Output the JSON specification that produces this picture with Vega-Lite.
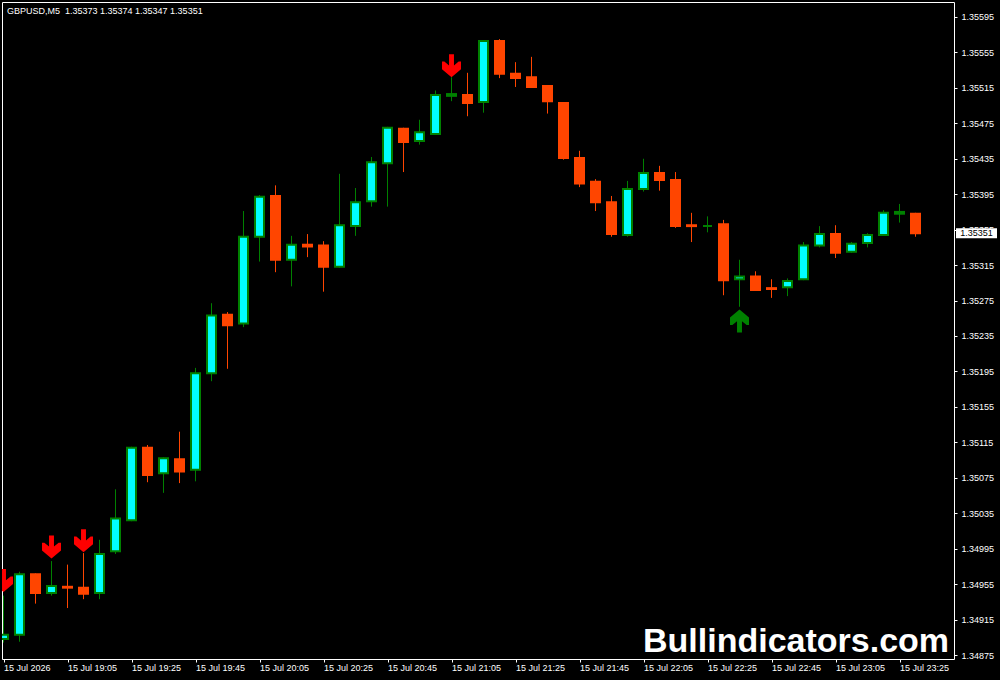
{
  "$schema": "https://vega.github.io/schema/vega-lite/v6.json",
  "width": 952,
  "height": 657,
  "autosize": {"type": "none"},
  "padding": {"left": 2, "top": 2, "right": 46, "bottom": 21},
  "background": "#000000",
  "config": {
    "view": {"stroke": "#FFFFFF", "strokeWidth": 1, "fill": "#000000"},
    "font": "Liberation Sans",
    "scale": {"continuousPadding": 0},
    "axis": {"labelFont": "Liberation Sans", "labelOverlap": false}
  },
  "datasets": {
    "bars": [
      {"time": "2026-07-15T18:45:00Z", "open": 1.34893, "high": 1.34942, "low": 1.34889, "close": 1.34898},
      {"time": "2026-07-15T18:50:00Z", "open": 1.34898, "high": 1.34969, "low": 1.34890, "close": 1.34966},
      {"time": "2026-07-15T18:55:00Z", "open": 1.34966, "high": 1.34967, "low": 1.34933, "close": 1.34945},
      {"time": "2026-07-15T19:00:00Z", "open": 1.34945, "high": 1.34981, "low": 1.34942, "close": 1.34953},
      {"time": "2026-07-15T19:05:00Z", "open": 1.34952, "high": 1.34977, "low": 1.34928, "close": 1.34951},
      {"time": "2026-07-15T19:10:00Z", "open": 1.34951, "high": 1.34990, "low": 1.34938, "close": 1.34944},
      {"time": "2026-07-15T19:15:00Z", "open": 1.34945, "high": 1.35005, "low": 1.34938, "close": 1.34989},
      {"time": "2026-07-15T19:20:00Z", "open": 1.34992, "high": 1.35062, "low": 1.34989, "close": 1.35029},
      {"time": "2026-07-15T19:25:00Z", "open": 1.35027, "high": 1.35110, "low": 1.35026, "close": 1.35109},
      {"time": "2026-07-15T19:30:00Z", "open": 1.35109, "high": 1.35112, "low": 1.35070, "close": 1.35078},
      {"time": "2026-07-15T19:35:00Z", "open": 1.35080, "high": 1.35098, "low": 1.35058, "close": 1.35097},
      {"time": "2026-07-15T19:40:00Z", "open": 1.35096, "high": 1.35127, "low": 1.35069, "close": 1.35082},
      {"time": "2026-07-15T19:45:00Z", "open": 1.35084, "high": 1.35199, "low": 1.35071, "close": 1.35193},
      {"time": "2026-07-15T19:50:00Z", "open": 1.35193, "high": 1.35272, "low": 1.35184, "close": 1.35258},
      {"time": "2026-07-15T19:55:00Z", "open": 1.35259, "high": 1.35262, "low": 1.35198, "close": 1.35247},
      {"time": "2026-07-15T20:00:00Z", "open": 1.35249, "high": 1.35376, "low": 1.35245, "close": 1.35347},
      {"time": "2026-07-15T20:05:00Z", "open": 1.35347, "high": 1.35394, "low": 1.35319, "close": 1.35392},
      {"time": "2026-07-15T20:10:00Z", "open": 1.35393, "high": 1.35405, "low": 1.35307, "close": 1.35321},
      {"time": "2026-07-15T20:15:00Z", "open": 1.35321, "high": 1.35348, "low": 1.35291, "close": 1.35338},
      {"time": "2026-07-15T20:20:00Z", "open": 1.35338, "high": 1.35350, "low": 1.35324, "close": 1.35336},
      {"time": "2026-07-15T20:25:00Z", "open": 1.35337, "high": 1.35342, "low": 1.35285, "close": 1.35313},
      {"time": "2026-07-15T20:30:00Z", "open": 1.35313, "high": 1.35418, "low": 1.35312, "close": 1.35360},
      {"time": "2026-07-15T20:35:00Z", "open": 1.35359, "high": 1.35402, "low": 1.35348, "close": 1.35386},
      {"time": "2026-07-15T20:40:00Z", "open": 1.35387, "high": 1.35437, "low": 1.35381, "close": 1.35431},
      {"time": "2026-07-15T20:45:00Z", "open": 1.35430, "high": 1.35471, "low": 1.35381, "close": 1.35470},
      {"time": "2026-07-15T20:50:00Z", "open": 1.35469, "high": 1.35470, "low": 1.35420, "close": 1.35454},
      {"time": "2026-07-15T20:55:00Z", "open": 1.35455, "high": 1.35479, "low": 1.35451, "close": 1.35465},
      {"time": "2026-07-15T21:00:00Z", "open": 1.35463, "high": 1.35512, "low": 1.35462, "close": 1.35507},
      {"time": "2026-07-15T21:05:00Z", "open": 1.35506, "high": 1.35527, "low": 1.35500, "close": 1.35508},
      {"time": "2026-07-15T21:10:00Z", "open": 1.35507, "high": 1.35532, "low": 1.35483, "close": 1.35498},
      {"time": "2026-07-15T21:15:00Z", "open": 1.35499, "high": 1.35569, "low": 1.35487, "close": 1.35568},
      {"time": "2026-07-15T21:20:00Z", "open": 1.35568, "high": 1.35570, "low": 1.35526, "close": 1.35531},
      {"time": "2026-07-15T21:25:00Z", "open": 1.35531, "high": 1.35544, "low": 1.35516, "close": 1.35526},
      {"time": "2026-07-15T21:30:00Z", "open": 1.35527, "high": 1.35550, "low": 1.35515, "close": 1.35516},
      {"time": "2026-07-15T21:35:00Z", "open": 1.35517, "high": 1.35518, "low": 1.35486, "close": 1.35500},
      {"time": "2026-07-15T21:40:00Z", "open": 1.35498, "high": 1.35499, "low": 1.35434, "close": 1.35436},
      {"time": "2026-07-15T21:45:00Z", "open": 1.35436, "high": 1.35444, "low": 1.35403, "close": 1.35407},
      {"time": "2026-07-15T21:50:00Z", "open": 1.35409, "high": 1.35412, "low": 1.35376, "close": 1.35386},
      {"time": "2026-07-15T21:55:00Z", "open": 1.35386, "high": 1.35393, "low": 1.35347, "close": 1.35350},
      {"time": "2026-07-15T22:00:00Z", "open": 1.35349, "high": 1.35410, "low": 1.35347, "close": 1.35401},
      {"time": "2026-07-15T22:05:00Z", "open": 1.35401, "high": 1.35435, "low": 1.35398, "close": 1.35419},
      {"time": "2026-07-15T22:10:00Z", "open": 1.35419, "high": 1.35427, "low": 1.35399, "close": 1.35411},
      {"time": "2026-07-15T22:15:00Z", "open": 1.35411, "high": 1.35420, "low": 1.35357, "close": 1.35359},
      {"time": "2026-07-15T22:20:00Z", "open": 1.35360, "high": 1.35374, "low": 1.35341, "close": 1.35359},
      {"time": "2026-07-15T22:25:00Z", "open": 1.35359, "high": 1.35370, "low": 1.35352, "close": 1.35359},
      {"time": "2026-07-15T22:30:00Z", "open": 1.35361, "high": 1.35366, "low": 1.35281, "close": 1.35298},
      {"time": "2026-07-15T22:35:00Z", "open": 1.35299, "high": 1.35321, "low": 1.35268, "close": 1.35302},
      {"time": "2026-07-15T22:40:00Z", "open": 1.35302, "high": 1.35308, "low": 1.35286, "close": 1.35287},
      {"time": "2026-07-15T22:45:00Z", "open": 1.35289, "high": 1.35299, "low": 1.35278, "close": 1.35288},
      {"time": "2026-07-15T22:50:00Z", "open": 1.35290, "high": 1.35300, "low": 1.35280, "close": 1.35297},
      {"time": "2026-07-15T22:55:00Z", "open": 1.35299, "high": 1.35341, "low": 1.35298, "close": 1.35337},
      {"time": "2026-07-15T23:00:00Z", "open": 1.35337, "high": 1.35359, "low": 1.35335, "close": 1.35350},
      {"time": "2026-07-15T23:05:00Z", "open": 1.35350, "high": 1.35360, "low": 1.35323, "close": 1.35329},
      {"time": "2026-07-15T23:10:00Z", "open": 1.35330, "high": 1.35341, "low": 1.35329, "close": 1.35339},
      {"time": "2026-07-15T23:15:00Z", "open": 1.35340, "high": 1.35351, "low": 1.35335, "close": 1.35349},
      {"time": "2026-07-15T23:20:00Z", "open": 1.35349, "high": 1.35377, "low": 1.35348, "close": 1.35374},
      {"time": "2026-07-15T23:25:00Z", "open": 1.35373, "high": 1.35384, "low": 1.35363, "close": 1.35375},
      {"time": "2026-07-15T23:30:00Z", "open": 1.35373, "high": 1.35374, "low": 1.35347, "close": 1.35351}
    ],
    "signals": [
      {"time": "2026-07-15T18:45:00Z", "price": 1.34959, "type": "down"},
      {"time": "2026-07-15T19:00:00Z", "price": 1.34997, "type": "down"},
      {"time": "2026-07-15T19:10:00Z", "price": 1.35004, "type": "down"},
      {"time": "2026-07-15T21:05:00Z", "price": 1.35540, "type": "down"},
      {"time": "2026-07-15T22:35:00Z", "price": 1.35252, "type": "up"}
    ],
    "header": [
      {"time": "2026-07-15T18:46:05.625Z", "price": 1.35602, "label": "GBPUSD,M5\u00a0 1.35373 1.35374 1.35347 1.35351"}
    ],
    "watermark": [
      {"time": "2026-07-15T23:40:30.000Z", "price": 1.348784, "label": "Bullindicators.com"}
    ],
    "lastprice": [
      {"time": "2026-07-15T23:49:03.750Z", "price": 1.35351, "label": "1.35351"}
    ]
  },
  "encoding": {
    "x": {
      "field": "time",
      "type": "temporal",
      "scale": {
        "type": "utc",
        "padding": 0,
        "nice": false,
        "domain": [
          {"year": 2026, "month": "jul", "date": 15, "hours": 18, "minutes": 44, "seconds": 31, "milliseconds": 875, "utc": true},
          {"year": 2026, "month": "jul", "date": 15, "hours": 23, "minutes": 42, "seconds": 1, "milliseconds": 875, "utc": true}
        ]
      },
      "axis": {
        "values": [
          {"year": 2026, "month": "jul", "date": 15, "hours": 18, "minutes": 45, "utc": true},
          {"year": 2026, "month": "jul", "date": 15, "hours": 19, "minutes": 5, "utc": true},
          {"year": 2026, "month": "jul", "date": 15, "hours": 19, "minutes": 25, "utc": true},
          {"year": 2026, "month": "jul", "date": 15, "hours": 19, "minutes": 45, "utc": true},
          {"year": 2026, "month": "jul", "date": 15, "hours": 20, "minutes": 5, "utc": true},
          {"year": 2026, "month": "jul", "date": 15, "hours": 20, "minutes": 25, "utc": true},
          {"year": 2026, "month": "jul", "date": 15, "hours": 20, "minutes": 45, "utc": true},
          {"year": 2026, "month": "jul", "date": 15, "hours": 21, "minutes": 5, "utc": true},
          {"year": 2026, "month": "jul", "date": 15, "hours": 21, "minutes": 25, "utc": true},
          {"year": 2026, "month": "jul", "date": 15, "hours": 21, "minutes": 45, "utc": true},
          {"year": 2026, "month": "jul", "date": 15, "hours": 22, "minutes": 5, "utc": true},
          {"year": 2026, "month": "jul", "date": 15, "hours": 22, "minutes": 25, "utc": true},
          {"year": 2026, "month": "jul", "date": 15, "hours": 22, "minutes": 45, "utc": true},
          {"year": 2026, "month": "jul", "date": 15, "hours": 23, "minutes": 5, "utc": true},
          {"year": 2026, "month": "jul", "date": 15, "hours": 23, "minutes": 25, "utc": true}
        ],
        "tickCount": 40,
        "labelExpr": "utcFormat(datum.value, '%H:%M') == '18:45' ? '15 Jul 2026' : utcFormat(datum.value, '%d %b %H:%M')",
        "labelAlign": "left",
        "labelBaseline": "top",
        "labelColor": "#FFFFFF",
        "labelFontSize": 9,
        "labelPadding": 1,
        "labelOverlap": false,
        "labelBound": false,
        "labelFlush": false,
        "tickColor": "#FFFFFF",
        "tickSize": 3,
        "domain": false,
        "grid": false,
        "title": null
      }
    }
  },
  "layer": [
    {
      "data": {"name": "bars"},
      "mark": {"type": "rule", "strokeWidth": 1, "opacity": 1, "clip": true},
      "encoding": {
        "y": {
          "field": "low",
          "type": "quantitative",
          "scale": {"domain": [1.348705, 1.356119], "zero": false, "nice": false, "padding": 0},
          "axis": {
            "orient": "right",
            "values": [1.34875, 1.34915, 1.34955, 1.34995, 1.35035, 1.35075, 1.35115, 1.35155, 1.35195, 1.35235, 1.35275, 1.35315, 1.35355, 1.35395, 1.35435, 1.35475, 1.35515, 1.35555, 1.35595],
            "tickCount": 40,
            "format": ".5f",
            "labelAlign": "left",
            "labelBaseline": "middle",
            "labelColor": "#FFFFFF",
            "labelFontSize": 9,
            "labelPadding": 4,
            "labelOverlap": false,
            "labelBound": false,
            "labelFlush": false,
            "tickColor": "#FFFFFF",
            "tickSize": 3,
            "domain": false,
            "grid": false,
            "title": null
          }
        },
        "y2": {"field": "high"},
        "color": {"condition": {"test": "datum.close >= datum.open", "value": "#008000"}, "value": "#FF4500"}
      }
    },
    {
      "data": {"name": "bars"},
      "mark": {"type": "bar", "width": 9, "strokeWidth": 2, "opacity": 1, "clip": true},
      "encoding": {
        "y": {"field": "open", "type": "quantitative", "scale": {"domain": [1.348705, 1.356119], "zero": false, "nice": false, "padding": 0}},
        "y2": {"field": "close"},
        "fill": {"condition": {"test": "datum.close >= datum.open", "value": "#00FFFF"}, "value": "#FF4500"},
        "stroke": {"condition": {"test": "datum.close >= datum.open", "value": "#008000"}, "value": "#FF4500"}
      }
    },
    {
      "data": {"name": "signals"},
      "mark": {"type": "point", "filled": true, "size": 361, "opacity": 1, "strokeWidth": 0, "clip": true},
      "encoding": {
        "y": {"field": "price", "type": "quantitative", "scale": {"domain": [1.348705, 1.356119], "zero": false, "nice": false, "padding": 0}},
        "shape": {
          "field": "type",
          "type": "nominal",
          "scale": {
            "domain": ["down", "up"],
            "range": [
              "M -0.26 -1.21 L 0.26 -1.21 L 0.26 -0.03 L 0.75 -0.44 L 1 -0.44 L 1 0.37 L 0 1.21 L -1 0.37 L -1 -0.44 L -0.75 -0.44 L -0.26 -0.03 Z",
              "M -0.26 1.21 L 0.26 1.21 L 0.26 0.03 L 0.75 0.44 L 1 0.44 L 1 -0.37 L 0 -1.21 L -1 -0.37 L -1 0.44 L -0.75 0.44 L -0.26 0.03 Z"
            ]
          },
          "legend": null
        },
        "color": {
          "field": "type",
          "type": "nominal",
          "scale": {"domain": ["down", "up"], "range": ["#FF0000", "#008000"]},
          "legend": null
        }
      }
    },
    {
      "data": {"name": "header"},
      "mark": {"type": "text", "align": "left", "baseline": "middle", "fontSize": 9, "font": "Liberation Sans", "color": "#FFFFFF"},
      "encoding": {
        "y": {"field": "price", "type": "quantitative", "scale": {"domain": [1.348705, 1.356119], "zero": false, "nice": false, "padding": 0}},
        "text": {"field": "label"}
      }
    },
    {
      "data": {"name": "watermark"},
      "mark": {"type": "text", "align": "right", "baseline": "alphabetic", "fontSize": 34, "fontWeight": "bold", "font": "Liberation Sans", "color": "#FFFFFF"},
      "encoding": {
        "y": {"field": "price", "type": "quantitative", "scale": {"domain": [1.348705, 1.356119], "zero": false, "nice": false, "padding": 0}},
        "text": {"field": "label"}
      }
    },
    {
      "data": {"name": "lastprice"},
      "mark": {"type": "tick", "orient": "horizontal", "size": 41, "thickness": 10, "color": "#FFFFFF", "opacity": 1},
      "encoding": {
        "y": {"field": "price", "type": "quantitative", "scale": {"domain": [1.348705, 1.356119], "zero": false, "nice": false, "padding": 0}}
      }
    },
    {
      "data": {"name": "lastprice"},
      "mark": {"type": "text", "align": "center", "baseline": "middle", "fontSize": 9, "font": "Liberation Sans", "color": "#000000"},
      "encoding": {
        "y": {"field": "price", "type": "quantitative", "scale": {"domain": [1.348705, 1.356119], "zero": false, "nice": false, "padding": 0}},
        "text": {"field": "label"}
      }
    }
  ]
}
